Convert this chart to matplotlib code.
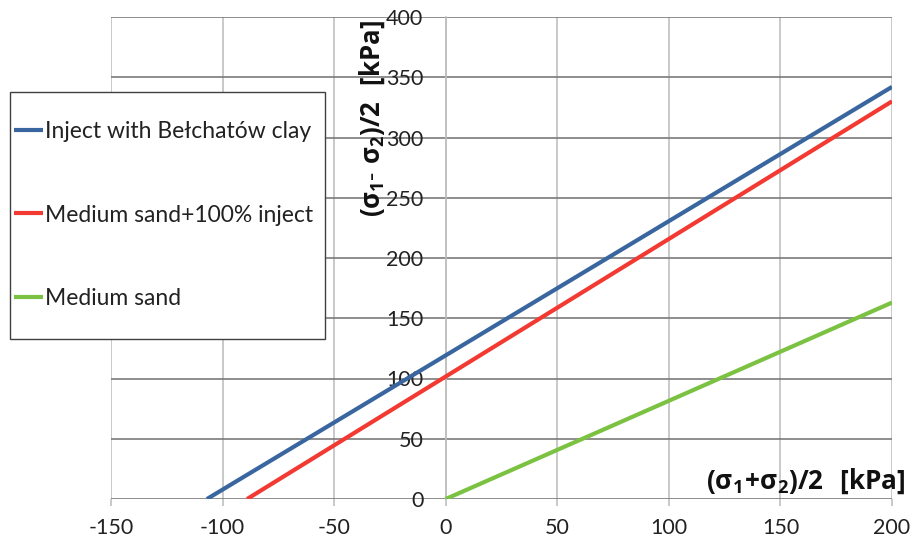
import matplotlib
matplotlib.use("Agg")
import matplotlib.pyplot as plt
from matplotlib.patches import Rectangle

plt.rcParams['font.family'] = ['Lato', 'DejaVu Sans']
plt.rcParams['axes.unicode_minus'] = False
plt.rcParams['mathtext.fontset'] = 'custom'
plt.rcParams['mathtext.rm'] = 'Open Sans'
plt.rcParams['mathtext.bf'] = 'Open Sans:bold'

# line end points
labels = ["Inject with Bełchatów clay", "Medium sand+100% inject", "Medium sand"]
x_values = [[-107, 200], [-89, 200], [0, 200]]
y_values = [[0, 342], [0, 330], [0, 163]]
colors = ["#3a66a0", "#f23a33", "#7cc242"]

x_ticks = [-150, -100, -50, 0, 50, 100, 150, 200]
y_ticks = [0, 50, 100, 150, 200, 250, 300, 350, 400]

fig = plt.figure(figsize=(9.16, 5.47), dpi=100)
ax = fig.add_axes([111/916, 1-499/547, (892-111)/916, (499-17)/547])
ax.set_xlim(-150, 200)
ax.set_ylim(0, 400)

#gridlines: light verticals, darker horizontals
for xt in x_ticks:
	ax.axvline(xt, color="#c0c0c0", lw=1.2, zorder=1)
for yt in y_ticks:
	ax.axhline(yt, color="#7a7a7a", lw=1.2, zorder=1)

lines = []
for i in range(len(labels)):
	l, = ax.plot(x_values[i], y_values[i], color=colors[i], lw=3, solid_capstyle='butt', label=labels[i], zorder=3)
	lines.append(l)

for s in ['top', 'right', 'bottom']:
	ax.spines[s].set_visible(False)
ax.spines['left'].set_position(('data', 0))
ax.spines['left'].set_color("#c0c0c0")
ax.spines['left'].set_linewidth(1.2)

ax.set_xticks(x_ticks)
ax.set_yticks(y_ticks)
ax.tick_params(axis='x', length=5, width=1.2, color="#c0c0c0", labelsize=15.5, pad=9, labelcolor="#222222")
ax.tick_params(axis='y', length=0, labelsize=15.5, pad=16, labelcolor="#222222")

fig.text(372/916, 1-119/547, r'$\mathbf{(σ_1\text{-}\ σ_2)/2\ \ [kPa]}$', rotation=90,
	ha='center', va='center', fontsize=18.5, color="#111111")
fig.text(905/916, 1-481/547, r'$\mathbf{(σ_1\!+\!σ_2)/2\ \ [kPa]}$',
	ha='right', va='center', fontsize=18.8, color="#111111")

#legend frame drawn by hand so its padding can differ from the entries
fig.patches.append(Rectangle((10/916, 1-339/547), 315/916, 247/547, transform=fig.transFigure,
	facecolor='white', edgecolor="#404040", lw=1.0, zorder=5))
leg = fig.legend(handles=lines, loc='center left', bbox_to_anchor=(14/916, 1-215/547),
	fontsize=16.5, handlelength=1.25, handletextpad=0.1, labelspacing=2.72,
	borderpad=0, borderaxespad=0, frameon=False)
leg.set_zorder(6)
for t in leg.get_texts():
	t.set_color("#222222")

fig.savefig("out.png", dpi=100)
